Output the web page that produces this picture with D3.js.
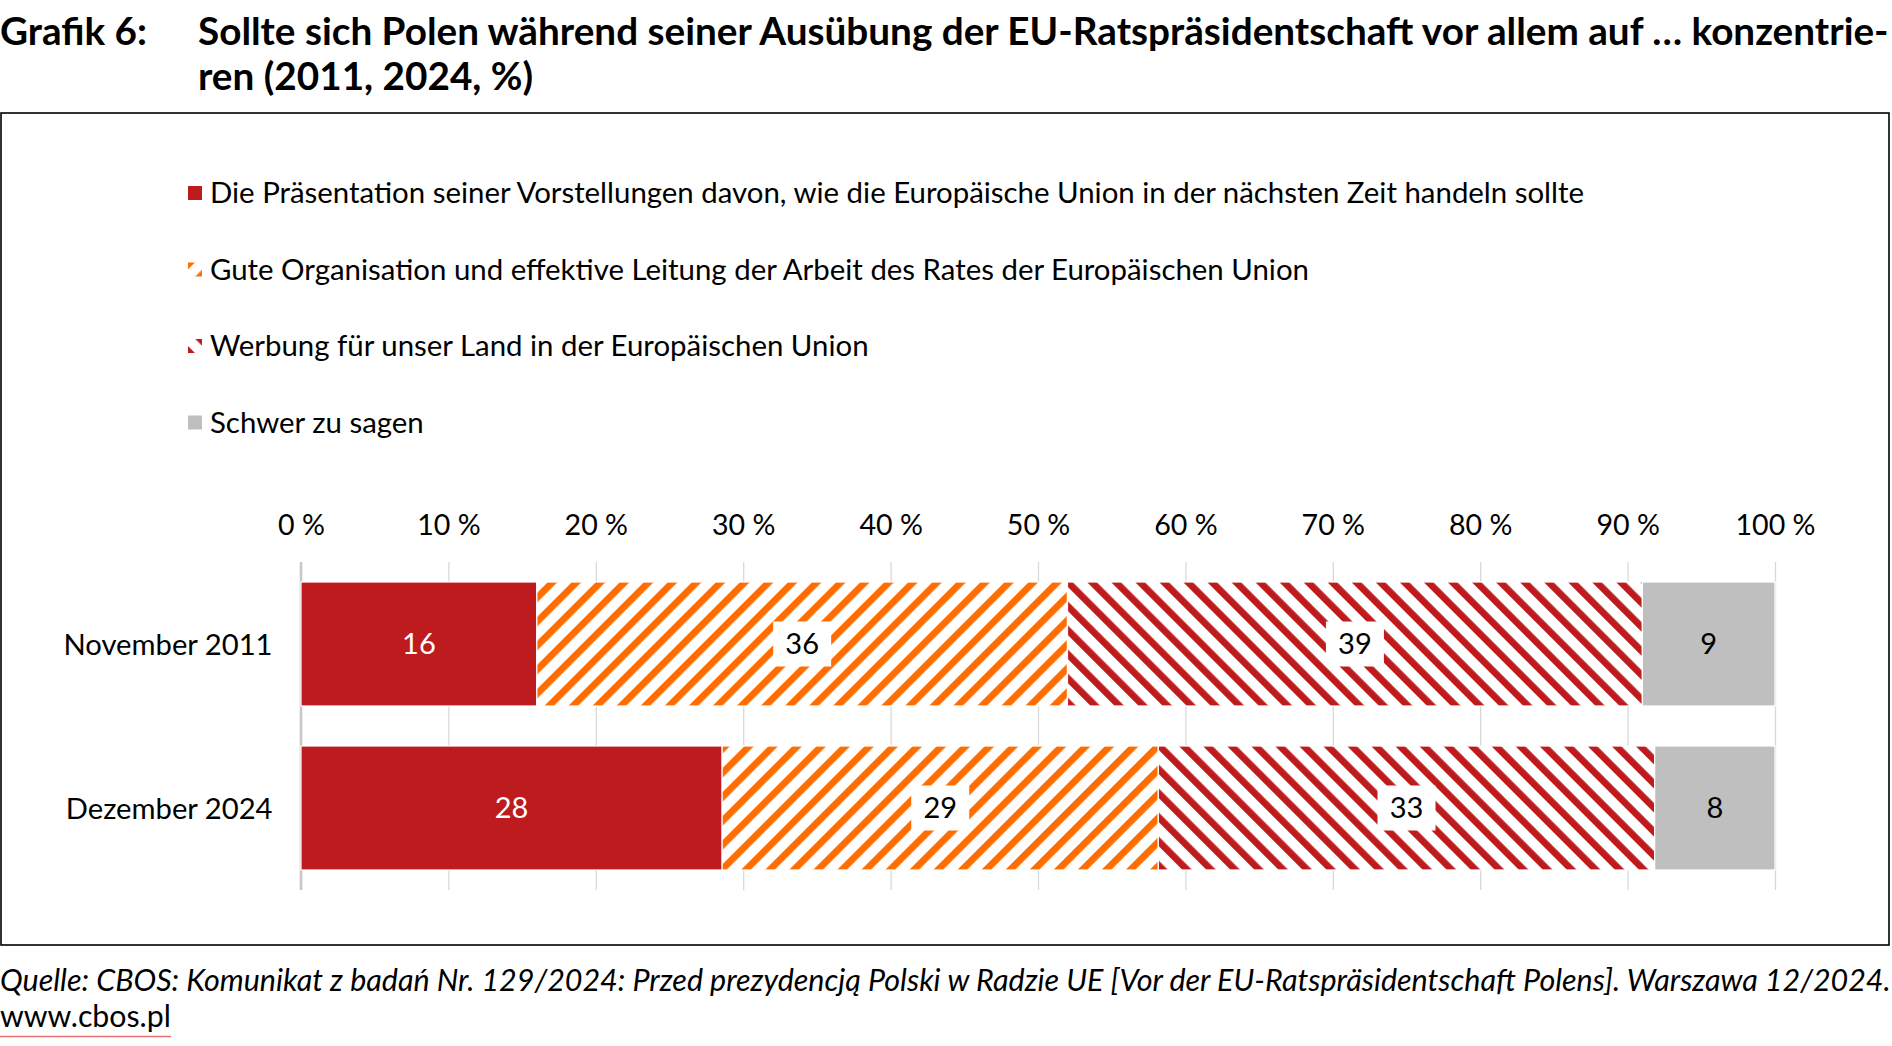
<!DOCTYPE html>
<html>
<head>
<meta charset="utf-8">
<script src="https://cdn.jsdelivr.net/npm/d3@7"></script>
<style>
  html, body { margin: 0; padding: 0; background: #fff; }
  svg { display: block; font-family: Lato, "Open Sans", sans-serif; }
</style>
</head>
<body>
<svg id="chart" width="1892" height="1046"></svg>
<script>
// ---- data ----
const categories = ["November 2011", "Dezember 2024"];
const seriesNames = [
  "Die Präsentation seiner Vorstellungen davon, wie die Europäische Union in der nächsten Zeit handeln sollte",
  "Gute Organisation und effektive Leitung der Arbeit des Rates der Europäischen Union",
  "Werbung für unser Land in der Europäischen Union",
  "Schwer zu sagen"
];
const praesentation = [16, 28];
const organisation = [36, 29];
const werbung = [39, 33];
const schwerZuSagen = [9, 8];
const tickValues = [0, 10, 20, 30, 40, 50, 60, 70, 80, 90, 100];

const titleLabel = "Grafik 6:";
const titleLines = [
  "Sollte sich Polen während seiner Ausübung der EU-Ratspräsidentschaft vor allem auf … konzentrie-",
  "ren (2011, 2024, %)"
];
const sourceLine = "Quelle: CBOS: Komunikat z badań Nr. 129/2024: Przed prezydencją Polski w Radzie UE [Vor der EU-Ratspräsidentschaft Polens]. Warszawa 12/2024.";
const sourceLink = "www.cbos.pl";

// ---- build table ----
const keys = ["s0", "s1", "s2", "s3"];
const seriesValues = [praesentation, organisation, werbung, schwerZuSagen];
const rows = categories.map((c, i) => {
  const r = { cat: c };
  keys.forEach((k, j) => r[k] = seriesValues[j][i]);
  return r;
});
const stacked = d3.stack().keys(keys).offset(d3.stackOffsetExpand)(rows);

const RED = "#BD1B1E", ORANGE = "#FF6D00", GRAY = "#BFBFBF";

const svg = d3.select("#chart");
const defs = svg.append("defs");
function stripePattern(id, color, angle, transformPrefix, stripeX) {
  const p = defs.append("pattern")
    .attr("id", id)
    .attr("patternUnits", "userSpaceOnUse")
    .attr("width", 17)
    .attr("height", 17)
    .attr("patternTransform", `${transformPrefix || ""} rotate(${angle})`);
  p.append("rect").attr("width", 17).attr("height", 17).attr("fill", "#fff");
  p.append("rect").attr("x", stripeX || 0).attr("width", 6.8).attr("height", 17).attr("fill", color);
}
stripePattern("patOrange", ORANGE, 45);
stripePattern("patRed", RED, -45);
const fillOf = i => i === 0 ? RED : i === 3 ? GRAY : (i === 1 ? "url(#patOrange)" : "url(#patRed)");

// ---- frame ----
svg.append("rect")
  .attr("x", 1).attr("y", 113).attr("width", 1888).attr("height", 832)
  .attr("fill", "none").attr("stroke", "#000").attr("stroke-width", 1.6);

// ---- title ----
svg.append("text").attr("x", 0).attr("y", 44.5)
  .attr("font-size", 38.7).attr("font-weight", 700).attr("fill", "#000")
  .text(titleLabel);
titleLines.forEach((t, i) => {
  svg.append("text").attr("x", 198).attr("y", 44.5 + i * 45)
    .attr("font-size", 38.7).attr("font-weight", 700).attr("fill", "#000")
    .text(t);
});

// ---- legend ----
const legend = svg.append("g");
seriesNames.forEach((name, i) => {
  const cy = 193 + i * 76.5;
  let fill = fillOf(i);
  if (i === 1 || i === 2) {
    const id = "legPat" + i;
    stripePattern(id, i === 1 ? ORANGE : RED, i === 1 ? 45 : -45, `translate(195,${cy})`, 5.2);
    fill = `url(#${id})`;
  }
  legend.append("rect").attr("x", 188).attr("y", cy - 7).attr("width", 14).attr("height", 14)
    .attr("fill", fill);
  legend.append("text").attr("x", 210).attr("y", cy + 10)
    .attr("font-size", 29.4).attr("fill", "#000").text(name);
});

// ---- scales ----
const x = d3.scaleLinear().domain([0, 1]).range([301, 1775]);
const y = d3.scaleBand().domain(categories).range([562, 890]).paddingInner(0.244).paddingOuter(0.122);

// grid + top tick labels
const xAxis = d3.axisTop(x)
  .tickValues(tickValues.map(v => v / 100))
  .tickFormat(d => `${Math.round(d * 100)} %`)
  .tickSize(-(890 - 562))
  .tickPadding(27);
const gx = svg.append("g").attr("transform", "translate(0,562)").call(xAxis);
gx.select(".domain").remove();
gx.selectAll(".tick line").attr("stroke", "#D9D9D9").attr("stroke-width", 1.3);
gx.selectAll(".tick text").attr("font-size", 28.6).attr("fill", "#000").attr("font-family", "Lato");

// zero axis line
svg.append("line").attr("x1", x(0)).attr("x2", x(0)).attr("y1", 562).attr("y2", 890)
  .attr("stroke", "#C8C8C8").attr("stroke-width", 2.5);

// category axis
const yAxis = d3.axisLeft(y).tickSize(0).tickPadding(28.5);
const gy = svg.append("g").attr("transform", `translate(${x(0)},0)`).call(yAxis);
gy.select(".domain").remove();
gy.selectAll(".tick text").attr("font-size", 29.2).attr("fill", "#000").attr("font-family", "Lato").attr("dy", "0.36em");

// ---- bars ----
const layers = svg.append("g").selectAll("g").data(stacked).join("g");
layers.each(function(layer, i) {
  d3.select(this).selectAll("rect").data(layer).join("rect")
    .attr("x", d => x(d[0]))
    .attr("width", d => x(d[1]) - x(d[0]))
    .attr("y", d => y(d.data.cat))
    .attr("height", y.bandwidth())
    .attr("fill", fillOf(i))
    .attr("stroke", "#fff").attr("stroke-width", 1.2);
});

// ---- data labels ----
const labels = svg.append("g");
stacked.forEach((layer, i) => {
  layer.forEach(d => {
    const cx = (x(d[0]) + x(d[1])) / 2;
    const cy = y(d.data.cat) + y.bandwidth() / 2;
    if (i === 1 || i === 2) {
      labels.append("rect").attr("x", cx - 29).attr("y", cy - 22.5).attr("width", 58).attr("height", 45).attr("fill", "#fff");
    }
    labels.append("text").attr("x", cx).attr("y", cy).attr("dy", "0.36em")
      .attr("text-anchor", "middle").attr("font-size", 29)
      .attr("fill", i === 0 ? "#fff" : "#000")
      .text(d.data[layer.key]);
  });
});

// ---- source ----
svg.append("text").attr("x", 0).attr("y", 991)
  .attr("font-size", 30.45).attr("font-style", "italic").attr("fill", "#000")
  .text(sourceLine);
svg.append("text").attr("x", 0).attr("y", 1027)
  .attr("font-size", 30.3).attr("fill", "#000")
  .text(sourceLink);
svg.append("line").attr("x1", 0).attr("x2", 171).attr("y1", 1036.5).attr("y2", 1036.5)
  .attr("stroke", "#E87070").attr("stroke-width", 1.5);
</script>
</body>
</html>
